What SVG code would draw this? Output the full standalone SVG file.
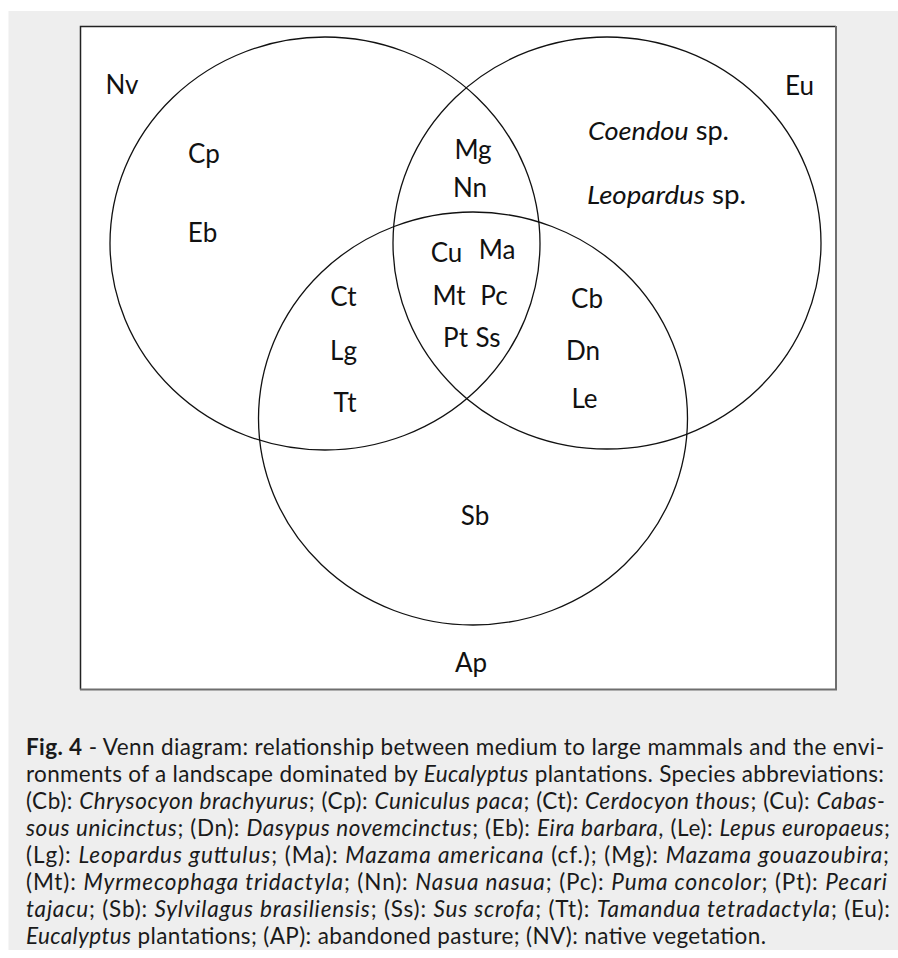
<svg xmlns="http://www.w3.org/2000/svg" width="898" height="958" viewBox="0 0 898 958">
<style>
.lbl{font-family:Lato,"Liberation Sans",sans-serif;font-size:26px;fill:#111;text-anchor:middle}
.lbli{font-family:Lato,"Liberation Sans",sans-serif;font-size:26px;fill:#111}
.it{font-style:italic}
.set{fill:none;stroke:#111;stroke-width:1.3}
.cap{font-family:Lato,"Open Sans",sans-serif;font-size:22.5px;fill:#1a1a1a}
</style>
<rect x="0" y="0" width="898" height="958" fill="#ffffff"/>
<rect x="8.5" y="11" width="889.5" height="939" fill="#eeeeee"/>
<g id="frame">
<rect x="80" y="26" width="756" height="663.5" fill="#ffffff"/>
<path d="M80.5 689.5 V26.5 H836" fill="none" stroke="#222" stroke-width="1.5"/>
<path d="M836 26 V689.5 H80" fill="none" stroke="#6e6e6e" stroke-width="2"/>
</g>
<g id="sets">
<ellipse id="set-nv" class="set" cx="325" cy="243.5" rx="215" ry="206.5"/>
<ellipse id="set-eu" class="set" cx="607" cy="243" rx="214" ry="206"/>
<ellipse id="set-ap" class="set" cx="473" cy="418.5" rx="214.5" ry="206.5"/>
</g>
<g id="set-labels">
<text class="lbl" x="122" y="94">Nv</text>
<text class="lbl" x="799.5" y="95">Eu</text>
<text class="lbl" x="471" y="672">Ap</text>
</g>
<g id="nv-only">
<text class="lbl" x="204" y="163">Cp</text>
<text class="lbl" x="202.5" y="242">Eb</text>
</g>
<g id="eu-only">
<text class="lbli" x="588" y="140" textLength="141" lengthAdjust="spacingAndGlyphs"><tspan class="it">Coendou</tspan> sp.</text>
<text class="lbli" x="587" y="204" textLength="159" lengthAdjust="spacingAndGlyphs"><tspan class="it">Leopardus</tspan> sp.</text>
</g>
<g id="nv-eu">
<text class="lbl" x="473" y="159">Mg</text>
<text class="lbl" x="470" y="197">Nn</text>
</g>
<g id="all-three">
<text class="lbl" x="446.5" y="262">Cu</text>
<text class="lbl" x="497" y="259">Ma</text>
<text class="lbl" x="449" y="305">Mt</text>
<text class="lbl" x="494" y="305">Pc</text>
<text class="lbl" x="455.5" y="347">Pt</text>
<text class="lbl" x="488" y="347">Ss</text>
</g>
<g id="nv-ap">
<text class="lbl" x="343.5" y="306">Ct</text>
<text class="lbl" x="343.5" y="360">Lg</text>
<text class="lbl" x="345" y="412">Tt</text>
</g>
<g id="eu-ap">
<text class="lbl" x="587" y="308">Cb</text>
<text class="lbl" x="583" y="360">Dn</text>
<text class="lbl" x="584.5" y="408">Le</text>
</g>
<g id="ap-only">
<text class="lbl" x="475" y="525">Sb</text>
</g>
<g id="caption">
<text class="cap" x="26" y="755" textLength="858" lengthAdjust="spacing"><tspan font-weight="bold">Fig. 4</tspan> - Venn diagram: relationship between medium to large mammals and the envi-</text>
<text class="cap" x="26" y="782" textLength="858" lengthAdjust="spacing">ronments of a landscape dominated by <tspan class="it">Eucalyptus</tspan> plantations. Species abbreviations:</text>
<text class="cap" x="26" y="809" textLength="859" lengthAdjust="spacing">(Cb): <tspan class="it">Chrysocyon brachyurus</tspan>; (Cp): <tspan class="it">Cuniculus paca</tspan>; (Ct): <tspan class="it">Cerdocyon thous</tspan>; (Cu): <tspan class="it">Cabas-</tspan></text>
<text class="cap" x="26" y="836" textLength="864" lengthAdjust="spacing"><tspan class="it">sous unicinctus</tspan>; (Dn): <tspan class="it">Dasypus novemcinctus</tspan>; (Eb): <tspan class="it">Eira barbara</tspan>, (Le): <tspan class="it">Lepus europaeus</tspan>;</text>
<text class="cap" x="26" y="863" textLength="863" lengthAdjust="spacing">(Lg): <tspan class="it">Leopardus guttulus</tspan>; (Ma): <tspan class="it">Mazama americana</tspan> (cf.); (Mg): <tspan class="it">Mazama gouazoubira</tspan>;</text>
<text class="cap" x="26" y="890" textLength="861" lengthAdjust="spacing">(Mt): <tspan class="it">Myrmecophaga tridactyla</tspan>; (Nn): <tspan class="it">Nasua nasua</tspan>; (Pc): <tspan class="it">Puma concolor</tspan>; (Pt): <tspan class="it">Pecari</tspan></text>
<text class="cap" x="26" y="917" textLength="864" lengthAdjust="spacing"><tspan class="it">tajacu</tspan>; (Sb): <tspan class="it">Sylvilagus brasiliensis</tspan>; (Ss): <tspan class="it">Sus scrofa</tspan>; (Tt): <tspan class="it">Tamandua tetradactyla</tspan>; (Eu):</text>
<text class="cap" x="26" y="944" textLength="740" lengthAdjust="spacing"><tspan class="it">Eucalyptus</tspan> plantations; (AP): abandoned pasture; (NV): native vegetation.</text>
</g>
</svg>
